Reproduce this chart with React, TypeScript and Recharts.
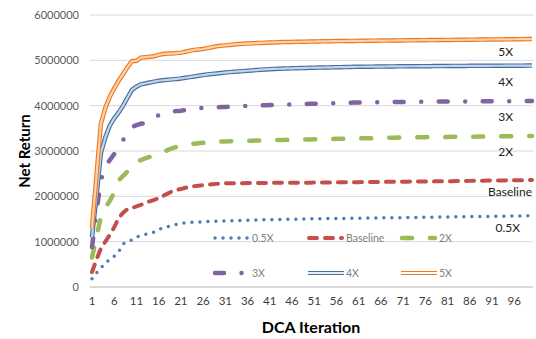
import React from 'react';
import { LineChart, Line, XAxis, YAxis, CartesianGrid } from 'recharts';

const iterations = [
  1, 2, 3, 4, 5, 6, 7, 8, 9, 10, 11, 12, 13, 14, 15, 16, 17, 18, 19, 20,
  21, 22, 23, 24, 25, 26, 27, 28, 29, 30, 31, 32, 33, 34, 35, 36, 37, 38, 39, 40,
  41, 42, 43, 44, 45, 46, 47, 48, 49, 50, 51, 52, 53, 54, 55, 56, 57, 58, 59, 60,
  61, 62, 63, 64, 65, 66, 67, 68, 69, 70, 71, 72, 73, 74, 75, 76, 77, 78, 79, 80,
  81, 82, 83, 84, 85, 86, 87, 88, 89, 90, 91, 92, 93, 94, 95, 96, 97, 98, 99, 100,
];

const half = [
  180000, 310000, 420000, 530000, 610000, 680000, 780000, 950000, 990000, 1040000,
  1100000, 1130000, 1160000, 1180000, 1210000, 1270000, 1300000, 1330000, 1360000, 1380000,
  1400000, 1415000, 1425000, 1430000, 1435000, 1440000, 1444000, 1448000, 1451000, 1454000,
  1457000, 1460000, 1463000, 1466000, 1469000, 1472000, 1475000, 1478000, 1480000, 1482000,
  1484000, 1486000, 1488000, 1490000, 1492000, 1494000, 1496000, 1498000, 1500000, 1502000,
  1504000, 1506000, 1508000, 1510000, 1511000, 1512000, 1513000, 1514000, 1515000, 1516000,
  1518000, 1519000, 1520000, 1522000, 1523000, 1524000, 1526000, 1527000, 1528000, 1530000,
  1531000, 1533000, 1534000, 1535000, 1537000, 1538000, 1540000, 1541000, 1542000, 1544000,
  1545000, 1546000, 1548000, 1549000, 1550000, 1552000, 1553000, 1555000, 1556000, 1557000,
  1559000, 1560000, 1561000, 1563000, 1564000, 1565000, 1567000, 1568000, 1569000, 1570000,
];

const baseline = [
  330000, 600000, 850000, 1000000, 1150000, 1320000, 1520000, 1640000, 1720000, 1740000,
  1780000, 1810000, 1860000, 1890000, 1920000, 1960000, 2010000, 2060000, 2110000, 2140000,
  2160000, 2190000, 2210000, 2225000, 2235000, 2245000, 2255000, 2265000, 2275000, 2285000,
  2287000, 2288000, 2289000, 2290000, 2291000, 2292000, 2293000, 2294000, 2295000, 2296000,
  2297000, 2297000, 2298000, 2298000, 2299000, 2299000, 2300000, 2300000, 2301000, 2302000,
  2303000, 2304000, 2305000, 2306000, 2307000, 2308000, 2309000, 2310000, 2311000, 2312000,
  2313000, 2314000, 2315000, 2316000, 2317000, 2318000, 2319000, 2320000, 2321000, 2322000,
  2323000, 2324000, 2325000, 2326000, 2327000, 2328000, 2329000, 2330000, 2331000, 2332000,
  2333000, 2335000, 2336000, 2338000, 2339000, 2341000, 2342000, 2344000, 2345000, 2347000,
  2348000, 2349000, 2350000, 2352000, 2353000, 2354000, 2356000, 2357000, 2358000, 2360000,
];

const double = [
  650000, 1100000, 1550000, 1750000, 1900000, 2080000, 2350000, 2450000, 2550000, 2650000,
  2760000, 2800000, 2840000, 2870000, 2900000, 2940000, 2980000, 3020000, 3060000, 3090000,
  3110000, 3130000, 3150000, 3160000, 3170000, 3180000, 3190000, 3200000, 3205000, 3210000,
  3212000, 3215000, 3218000, 3220000, 3223000, 3226000, 3228000, 3230000, 3233000, 3236000,
  3238000, 3240000, 3242000, 3244000, 3246000, 3248000, 3250000, 3252000, 3254000, 3256000,
  3258000, 3260000, 3262000, 3264000, 3266000, 3268000, 3270000, 3272000, 3274000, 3276000,
  3278000, 3280000, 3282000, 3284000, 3286000, 3288000, 3290000, 3292000, 3294000, 3296000,
  3298000, 3300000, 3302000, 3304000, 3305000, 3306000, 3307000, 3308000, 3309000, 3310000,
  3311000, 3312000, 3313000, 3314000, 3315000, 3316000, 3317000, 3318000, 3319000, 3320000,
  3321000, 3322000, 3323000, 3324000, 3325000, 3326000, 3327000, 3328000, 3329000, 3330000,
];

const triple = [
  880000, 1650000, 2350000, 2650000, 2800000, 2930000, 3050000, 3240000, 3420000, 3530000,
  3570000, 3600000, 3620000, 3680000, 3740000, 3790000, 3820000, 3850000, 3870000, 3880000,
  3890000, 3905000, 3915000, 3925000, 3940000, 3950000, 3955000, 3960000, 3965000, 3970000,
  3972000, 3975000, 3980000, 3985000, 3990000, 3995000, 4000000, 4003000, 4006000, 4010000,
  4012000, 4015000, 4018000, 4020000, 4022000, 4025000, 4028000, 4030000, 4035000, 4040000,
  4042000, 4044000, 4046000, 4048000, 4050000, 4053000, 4056000, 4060000, 4065000, 4068000,
  4070000, 4072000, 4074000, 4075000, 4076000, 4078000, 4079000, 4080000, 4081000, 4082000,
  4083000, 4084000, 4085000, 4086000, 4087000, 4088000, 4088000, 4089000, 4090000, 4090000,
  4091000, 4092000, 4092000, 4093000, 4094000, 4094000, 4095000, 4095000, 4096000, 4096000,
  4097000, 4097000, 4098000, 4098000, 4099000, 4099000, 4100000, 4100000, 4101000, 4102000,
];

const quad = [
  1100000, 2000000, 2950000, 3300000, 3560000, 3720000, 3850000, 4000000, 4180000, 4350000,
  4420000, 4470000, 4490000, 4510000, 4530000, 4550000, 4560000, 4570000, 4580000, 4590000,
  4600000, 4615000, 4630000, 4645000, 4660000, 4675000, 4690000, 4700000, 4710000, 4720000,
  4730000, 4740000, 4748000, 4755000, 4762000, 4770000, 4778000, 4786000, 4794000, 4800000,
  4805000, 4810000, 4814000, 4818000, 4821000, 4824000, 4827000, 4830000, 4833000, 4836000,
  4838000, 4840000, 4842000, 4844000, 4846000, 4848000, 4850000, 4852000, 4854000, 4856000,
  4858000, 4859000, 4860000, 4861000, 4862000, 4863000, 4864000, 4865000, 4866000, 4867000,
  4868000, 4869000, 4870000, 4870000, 4871000, 4872000, 4872000, 4873000, 4874000, 4874000,
  4875000, 4876000, 4876000, 4877000, 4877000, 4878000, 4878000, 4879000, 4879000, 4879000,
  4880000, 4881000, 4881000, 4882000, 4882000, 4882000, 4883000, 4883000, 4884000, 4885000,
];

const quint = [
  1300000, 2450000, 3600000, 3950000, 4200000, 4380000, 4550000, 4700000, 4850000, 4980000,
  4990000, 5060000, 5070000, 5080000, 5090000, 5120000, 5140000, 5150000, 5150000, 5160000,
  5170000, 5190000, 5210000, 5230000, 5240000, 5250000, 5270000, 5290000, 5310000, 5320000,
  5330000, 5340000, 5350000, 5360000, 5365000, 5370000, 5375000, 5380000, 5385000, 5390000,
  5393000, 5396000, 5400000, 5402000, 5404000, 5406000, 5408000, 5410000, 5412000, 5414000,
  5416000, 5418000, 5420000, 5421000, 5422000, 5424000, 5425000, 5426000, 5428000, 5429000,
  5430000, 5431000, 5432000, 5433000, 5434000, 5435000, 5436000, 5437000, 5438000, 5439000,
  5440000, 5441000, 5442000, 5443000, 5444000, 5445000, 5446000, 5447000, 5448000, 5449000,
  5450000, 5451000, 5452000, 5453000, 5454000, 5455000, 5456000, 5457000, 5458000, 5459000,
  5460000, 5461000, 5462000, 5463000, 5464000, 5465000, 5466000, 5467000, 5468000, 5470000,
];

const yTicks = [0, 1000000, 2000000, 3000000, 4000000, 5000000, 6000000];

const FONT = 'Lato, "Open Sans", sans-serif';

// style per series, shared by the plot lines and the legend samples
const styles = {
  half: { stroke: '#4a7ebb', strokeWidth: 3.5, strokeDasharray: '0 8' },
  baseline: { stroke: '#c0504d', strokeWidth: 4, strokeDasharray: '8 8' },
  double: { stroke: '#9bbb59', strokeWidth: 4.5, strokeDasharray: '10 18' },
  triple: { stroke: '#8064a2', strokeWidth: 4.5, strokeDasharray: '9 17.5 0 17.5' },
};

// double-line series: dark outline colour and light inner colour
const doubles = {
  quad: { outer: '#44709f', inner: '#c5d6ec', legendInner: '#e6edf6' },
  quint: { outer: '#ee7a1c', inner: '#fbd2b0', legendInner: '#ffffff' },
};

const data = iterations.map((it, i) => ({
  iter: it,
  half: half[i],
  baseline: baseline[i],
  double: double[i],
  triple: triple[i],
  quad: quad[i],
  quint: quint[i],
}));

const legendRows = [
  { name: '0.5X', key: 'half', x: 214, y: 238 },
  { name: 'Baseline', key: 'baseline', x: 308, y: 238 },
  { name: '2X', key: 'double', x: 401, y: 238 },
  { name: '3X', key: 'triple', x: 214, y: 273 },
  { name: '4X', key: 'quad', x: 308, y: 273 },
  { name: '5X', key: 'quint', x: 401, y: 273 },
];

const endLabels = [
  { text: '5X', x: 513, y: 51 },
  { text: '4X', x: 513, y: 81 },
  { text: '3X', x: 513, y: 116 },
  { text: '2X', x: 513, y: 151 },
  { text: 'Baseline', x: 532, y: 191 },
  { text: '0.5X', x: 520, y: 227 },
];

const LegendSample = ({ k, x, y }: { k: string; x: number; y: number }) => {
  if (k === 'quad' || k === 'quint') {
    const d = (doubles as any)[k];
    return (
      <g>
        <line x1={x} y1={y} x2={x + 36} y2={y} stroke={d.outer} strokeWidth={4} />
        <line x1={x} y1={y} x2={x + 36} y2={y} stroke={d.legendInner} strokeWidth={2} />
      </g>
    );
  }
  const s = (styles as any)[k];
  return <line x1={x + 1} y1={y} x2={x + 34} y2={y} {...s} strokeLinecap="round" />;
};

export default function App() {
  return (
    <div style={{ position: 'absolute', left: 0, top: 0, width: 536, height: 339, background: '#fff' }}>
      <LineChart width={536} height={339} data={data} margin={{ top: 15, right: 3, bottom: 22, left: 0 }}>
        <CartesianGrid vertical={false} stroke="#d9d9d9" strokeWidth={1} />
        <XAxis
          dataKey="iter"
          interval={4}
          tickLine={false}
          axisLine={{ stroke: '#d9d9d9', strokeWidth: 2 }}
          padding={{ left: 2, right: 1 }}
          tickMargin={4}
          tick={{ fontSize: 11.5, fill: '#404040', fontFamily: FONT }}
        />
        <YAxis
          domain={[0, 6000000]}
          ticks={yTicks}
          width={90}
          axisLine={false}
          tickLine={false}
          tickMargin={5}
          tick={{ fontSize: 11, fill: '#595959', fontFamily: FONT }}
        />
        <Line type="linear" dataKey="half" dot={false} strokeLinecap="round" {...styles.half} isAnimationActive={false} />
        <Line type="linear" dataKey="baseline" dot={false} strokeLinecap="round" {...styles.baseline} isAnimationActive={false} />
        <Line type="linear" dataKey="double" dot={false} strokeLinecap="round" {...styles.double} isAnimationActive={false} />
        <Line type="linear" dataKey="triple" dot={false} strokeLinecap="round" {...styles.triple} isAnimationActive={false} />
        {/* double lines: wide outline stroke with a light stroke on top */}
        <Line type="linear" dataKey="quad" dot={false} stroke={doubles.quad.outer} strokeWidth={4.5} isAnimationActive={false} />
        <Line type="linear" dataKey="quad" dot={false} stroke={doubles.quad.inner} strokeWidth={2.2} isAnimationActive={false} />
        <Line type="linear" dataKey="quint" dot={false} stroke={doubles.quint.outer} strokeWidth={4.5} isAnimationActive={false} />
        <Line type="linear" dataKey="quint" dot={false} stroke={doubles.quint.inner} strokeWidth={2.2} isAnimationActive={false} />
      </LineChart>
      <svg
        width={536}
        height={339}
        style={{ position: 'absolute', left: 0, top: 0, pointerEvents: 'none' }}
        fontFamily={FONT}
      >
        <text
          x={0}
          y={0}
          transform="translate(24,151) rotate(-90)"
          textAnchor="middle"
          dominantBaseline="central"
          fontSize={15}
          fontWeight="bold"
          fill="#000"
        >
          Net Return
        </text>
        <text x={311} y={326} textAnchor="middle" dominantBaseline="central" fontSize={16} fontWeight="bold" fill="#000">
          DCA Iteration
        </text>
        {endLabels.map((l) => (
          <text key={l.text} x={l.x} y={l.y} textAnchor="end" dominantBaseline="central" fontSize={12} fill="#1a1a1a">
            {l.text}
          </text>
        ))}
        {legendRows.map((r) => (
          <g key={r.key}>
            <LegendSample k={r.key} x={r.x} y={r.y} />
            <text x={r.x + 38} y={r.y} dominantBaseline="central" fontSize={10.5} fill="#7f7f7f">
              {r.name}
            </text>
          </g>
        ))}
      </svg>
    </div>
  );
}
